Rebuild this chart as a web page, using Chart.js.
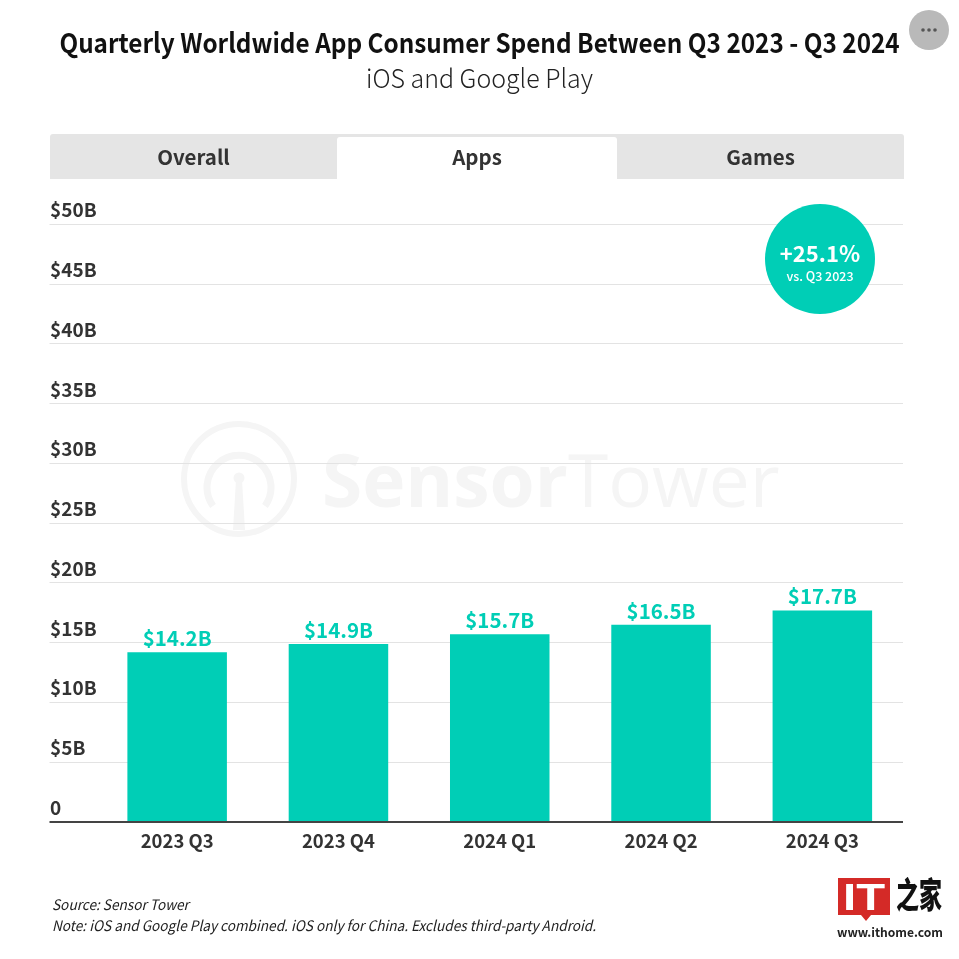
<!DOCTYPE html>
<html lang="en">
<head>
    <meta charset="UTF-8">
    <title>Quarterly Worldwide App Consumer Spend</title>
    <style>
        body { margin: 0; background: #fff; font-family: "Noto Sans CJK SC", "Noto Sans", sans-serif; }
        #page { position: relative; width: 959px; height: 959px; overflow: hidden; }
        #page > * { position: absolute; }
        #watermark { left: 0; top: 0; }
        #grafico { left: 0; top: 0; }
        .linha { left: 0; width: 959px; text-align: center; white-space: nowrap; }
        #titulo { left: 0; width: 959px; top: 23px; line-height: 38px; font-size: 27px; font-weight: 700; color: #111; transform-origin: 480px 0; transform: scaleX(0.9); }
        #subtitulo { top: 58px; line-height: 38px; font-size: 26px; font-weight: 300; color: #222; transform-origin: 480px 0; transform: scaleX(0.96); }
        #abas { left: 50px; top: 134px; width: 854px; height: 45px; background: #e5e5e5; border-radius: 3px 3px 0 0; }
        .aba { position: absolute; top: 3px; height: 38px; padding-bottom: 4px; line-height: 38px; text-align: center; font-size: 20.5px; font-weight: 700; color: #333; }
        .aba.ativa { background: #fff; border-radius: 3px 3px 0 0; }
        #selo { left: 765px; top: 204px; width: 110px; height: 110px; border-radius: 50%; background: #00ceb6; color: #fff; text-align: center; }
        #selo b { display: block; margin-top: 33px; font-size: 22px; line-height: 30px; }
        #selo span { display: block; font-size: 12.5px; line-height: 17px; font-weight: 500; }
        #menu { left: 909px; top: 10px; }
        #fonte { left: 52px; top: 893px; font-size: 14.5px; line-height: 21px; font-style: italic; color: #222; white-space: nowrap; transform-origin: 0 0; transform: scaleX(0.94); }
        #logo { left: 837px; top: 877px; }
    </style>
    <script src="https://cdn.jsdelivr.net/npm/chart.js"></script>
</head>
<body>
<div id="page">
    <svg id="watermark" width="959" height="959">
        <g fill="none" stroke="#f5f5f5">
            <circle cx="239" cy="479" r="55" stroke-width="6"/>
            <path d="M213 506 A32 32 0 1 1 265 506" stroke-width="7"/>
        </g>
        <circle cx="239" cy="478" r="5.5" fill="#f5f5f5"/>
        <path d="M236 480 L242 480 L245 530 L233 530 Z" fill="#f5f5f5"/>
        <text x="322" y="507" font-family="Open Sans" font-size="73" fill="#f5f5f5"><tspan font-weight="700">Sensor</tspan><tspan>Tower</tspan></text>
    </svg>
    <canvas id="grafico" width="959" height="959"></canvas>
    <div id="titulo" class="linha">Quarterly Worldwide App Consumer Spend Between Q3 2023 - Q3 2024</div>
    <div id="subtitulo" class="linha">iOS and Google Play</div>
    <div id="abas">
        <div class="aba" style="left:0;width:287px">Overall</div>
        <div class="aba ativa" style="left:287px;width:280px">Apps</div>
        <div class="aba" style="left:567px;width:287px">Games</div>
    </div>
    <div id="selo"><b>+25.1%</b><span>vs. Q3 2023</span></div>
    <svg id="menu" width="40" height="40">
        <circle cx="20" cy="20" r="20" fill="#b9b9b9"/>
        <circle cx="14" cy="20" r="1.8" fill="#555"/>
        <circle cx="20" cy="20" r="1.8" fill="#555"/>
        <circle cx="26" cy="20" r="1.8" fill="#555"/>
    </svg>
    <div id="fonte">Source: Sensor Tower<br>Note: iOS and Google Play combined. iOS only for China. Excludes third-party Android.</div>
    <svg id="logo" width="110" height="62">
        <path d="M1 1 H53 V38 H34 L29 44 L24 38 H1 Z" fill="#d42a27"/>
        <text x="27" y="33" text-anchor="middle" font-family="Liberation Sans" font-weight="700" font-size="37" fill="#fff" textLength="42" lengthAdjust="spacingAndGlyphs">IT</text>
        <g transform="translate(59 31) scale(1 1.55)">
            <text x="0" y="0" font-family="Noto Sans CJK SC" font-weight="900" font-size="23" fill="#111">之家</text>
        </g>
        <text x="0" y="60" font-family="Noto Sans CJK SC" font-weight="700" font-size="12.5" fill="#222" textLength="106" lengthAdjust="spacingAndGlyphs">www.ithome.com</text>
    </svg>
</div>
<script>
    const categorias = ['2023 Q3', '2023 Q4', '2024 Q1', '2024 Q2', '2024 Q3'];
    const valores = [14.2, 14.9, 15.7, 16.5, 17.7];
    const rotulos = ['$14.2B', '$14.9B', '$15.7B', '$16.5B', '$17.7B'];
    const ticksY = ['0', '$5B', '$10B', '$15B', '$20B', '$25B', '$30B', '$35B', '$40B', '$45B', '$50B'];

    const fonte = '"Noto Sans CJK SC", "Noto Sans", sans-serif';
    const verde = '#00ceb6';

    // escreve o valor em cima de cada barra
    const rotulosBarras = {
        id: 'rotulosBarras',
        afterDatasetsDraw(chart) {
            const ctx = chart.ctx;
            ctx.save();
            ctx.font = '700 20.5px ' + fonte;
            ctx.fillStyle = verde;
            ctx.textAlign = 'center';
            ctx.textBaseline = 'middle';
            chart.getDatasetMeta(0).data.forEach((barra, i) => {
                ctx.fillText(rotulos[i], barra.x, barra.y - 14);
            });
            ctx.restore();
        }
    };

    new Chart(document.getElementById('grafico'), {
        type: 'bar',
        data: {
            labels: categorias,
            datasets: [{
                data: valores,
                backgroundColor: verde,
                barPercentage: 0.617,
                categoryPercentage: 1
            }]
        },
        options: {
            responsive: false,
            animation: false,
            layout: { padding: { left: 50, right: 56, top: 224.4, bottom: 100 } },
            plugins: { legend: { display: false }, tooltip: { enabled: false } },
            scales: {
                x: {
                    afterFit(escala) { escala.height = 37; },
                    grid: { display: false },
                    border: { display: false },
                    ticks: { padding: 0, color: '#333', font: { family: fonte, size: 18.5, weight: '700' } }
                },
                y: {
                    min: 0,
                    max: 50,
                    afterFit(escala) { escala.width = 46.5; },
                    border: { display: false },
                    grid: {
                        tickLength: 47,
                        color: c => c.tick.value === 0 ? '#444' : '#e3e3e3',
                        tickColor: c => c.tick.value === 0 ? '#444' : '#e3e3e3',
                        lineWidth: c => c.tick.value === 0 ? 2 : 1,
                        tickWidth: c => c.tick.value === 0 ? 2 : 1
                    },
                    ticks: {
                        stepSize: 5,
                        autoSkip: false,
                        crossAlign: 'far',
                        color: '#333',
                        font: { family: fonte, size: 19, weight: '700', lineHeight: 1.5 },
                        // a linha vazia sobe o texto para cima da linha de grade
                        callback: (valor, i) => [ticksY[i], '']
                    }
                }
            }
        },
        plugins: [rotulosBarras]
    });
</script>
</body>
</html>
